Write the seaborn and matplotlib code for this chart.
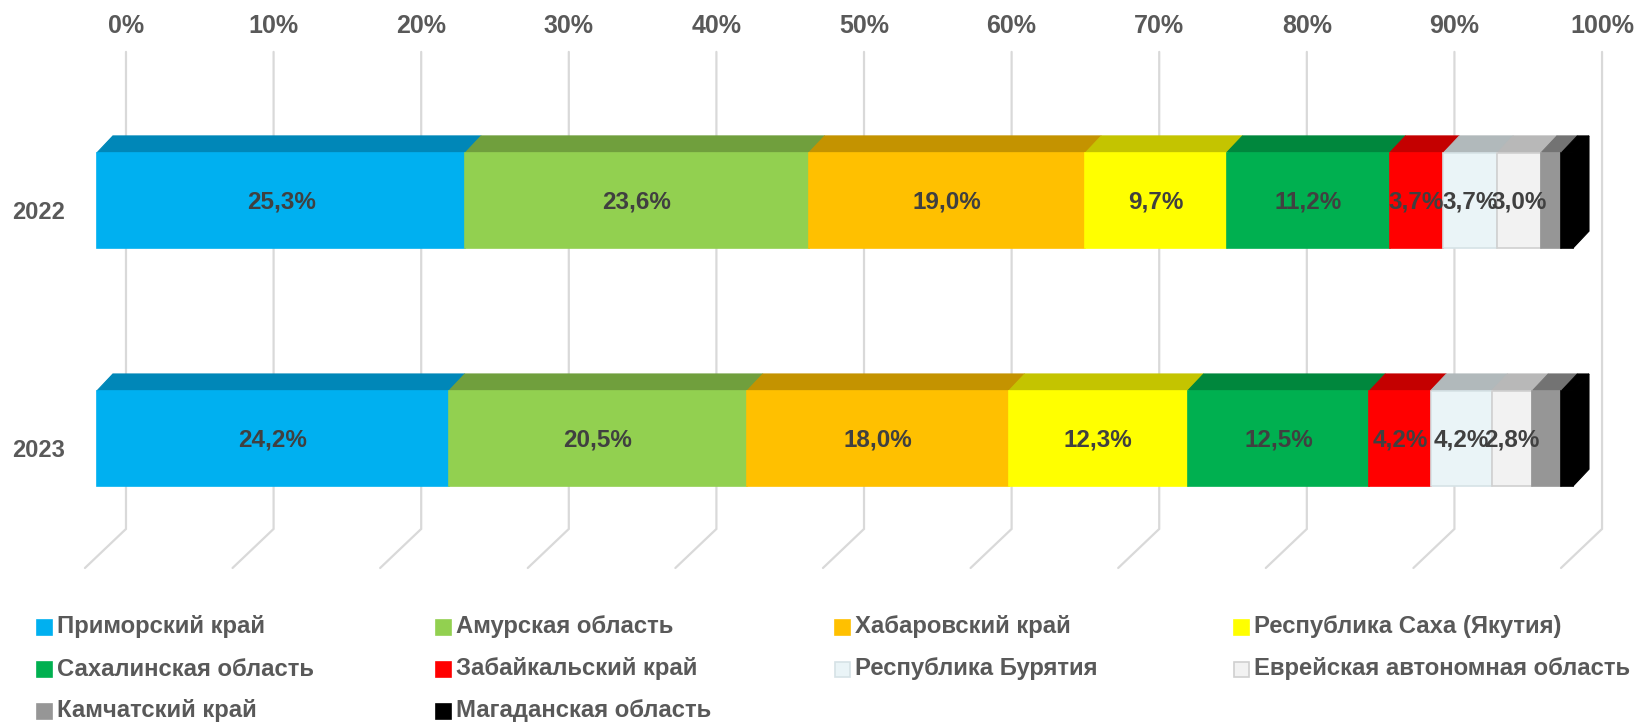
"""
Структура по регионам ДФО, 2022-2023 (100% накопительная, псевдо-3D).
"""

import matplotlib
matplotlib.use("Agg")

import matplotlib.pyplot as plt
from matplotlib.patches import Polygon, Rectangle
import numpy as np
import pandas as pd
import seaborn as sns


YEARS = ["2022", "2023"]

REGIONS = [
    "Приморский край",
    "Амурская область",
    "Хабаровский край",
    "Республика Саха (Якутия)",
    "Сахалинская область",
    "Забайкальский край",
    "Республика Бурятия",
    "Еврейская автономная область",
    "Камчатский край",
    "Магаданская область",
]

SHARE_2022 = [25.3, 23.6, 19.0, 9.7, 11.2, 3.7, 3.7, 3.0, 1.4, 0.8]
SHARE_2023 = [24.2, 20.5, 18.0, 12.3, 12.5, 4.2, 4.2, 2.8, 2.0, 0.8]

# подписи есть только у первых восьми регионов
N_LABELED = 8

TICKS = [0, 10, 20, 30, 40, 50, 60, 70, 80, 90, 100]

COLORS = [
    "#00B0F0", "#92D050", "#FFC000", "#FFFF00", "#00B050",
    "#FF0000", "#EAF4F7", "#F2F2F2", "#969696", "#000000",
]
TOP_COLORS = [
    "#0087B8", "#709F3D", "#C49300", "#C4C400", "#00873D",
    "#C40000", "#B1B9BB", "#B8B8B8", "#737373", "#000000",
]
EDGE_COLORS = [
    "#00B0F0", "#92D050", "#FFC000", "#FFFF00", "#00B050",
    "#FF0000", "#D6E2E6", "#D0D0D0", "#969696", "#000000",
]

# геометрия псевдо-3D (в единицах данных)
BAR_H = 0.40
DEPTH_DX, DEPTH_DY = 1.08, 0.071
WALL_DX = 1.965
GRID_TOP, FLOOR_Y = -0.624, 1.380
FLOOR_DX, FLOOR_DY = -2.78, 0.164

TEXT_GREY = "#595959"
LABEL_GREY = "#404040"


def build_frame() -> pd.DataFrame:
    rows = []
    for year, shares in zip(YEARS, [SHARE_2022, SHARE_2023]):
        total = sum(shares)
        start = 0.0
        for region, value in zip(REGIONS, shares):
            width = value / total * 100
            rows.append(
                dict(year=year, region=region, share=value,
                     width=width, start=start)
            )
            start += width
    return pd.DataFrame(rows)


df = build_frame()

sns.set_theme(style="white")
plt.rcParams["font.family"] = ["Liberation Sans", "DejaVu Sans"]

fig = plt.figure(figsize=(16.34, 7.22), dpi=100)
ax = fig.add_axes([0, 0, 1, 1])

# задняя стенка и пол: сетка
for t in TICKS:
    xb = t + WALL_DX
    ax.plot([xb, xb, xb + FLOOR_DX], [GRID_TOP, FLOOR_Y, FLOOR_Y + FLOOR_DY],
            color="#D9D9D9", lw=1.6, zorder=0, solid_joinstyle="miter")
    ax.text(xb, -0.733, f"{t}%", ha="center", va="center",
            fontsize=18, fontweight="bold", color=TEXT_GREY,
            family=["Liberation Sans Narrow", "Liberation Sans", "DejaVu Sans"])

# передние грани
for i, region in enumerate(REGIONS):
    part = df[df["region"] == region]
    sns.barplot(
        data=part, x="width", y="year", order=YEARS, orient="h",
        left=part["start"].to_numpy(), width=BAR_H, errorbar=None,
        color=COLORS[i], edgecolor=EDGE_COLORS[i], linewidth=1.2,
        saturation=1, ax=ax, zorder=3,
    )

# верхние грани, торец и подписи
for pos, year in enumerate(YEARS):
    part = df[df["year"] == year].reset_index(drop=True)
    y_top = pos - BAR_H / 2
    y_bot = pos + BAR_H / 2
    for i, row in part.iterrows():
        x0, x1 = row["start"], row["start"] + row["width"]
        top = Polygon(
            [(x0, y_top), (x1, y_top),
             (x1 + DEPTH_DX, y_top - DEPTH_DY), (x0 + DEPTH_DX, y_top - DEPTH_DY)],
            closed=True, facecolor=TOP_COLORS[i], edgecolor=TOP_COLORS[i],
            lw=0.8, zorder=2,
        )
        ax.add_patch(top)
        if i < N_LABELED:
            label = f"{row['share']:.1f}%".replace(".", ",")
            ax.text((x0 + x1) / 2, pos + 0.005, label, ha="center",
                    va="center", fontsize=17.5, fontweight="bold",
                    color=LABEL_GREY, zorder=6)
    x_end = part["start"].iloc[-1] + part["width"].iloc[-1]
    side = Polygon(
        [(x_end, y_top), (x_end + DEPTH_DX, y_top - DEPTH_DY),
         (x_end + DEPTH_DX, y_bot - DEPTH_DY), (x_end, y_bot)],
        closed=True, facecolor=COLORS[-1], edgecolor=COLORS[-1],
        lw=0.8, zorder=2,
    )
    ax.add_patch(side)
    ax.text(-3.93, pos + 0.05, year, ha="center", va="center",
            fontsize=17, fontweight="bold", color=TEXT_GREY)

ax.set_xlim(-6.57, 104.13)
ax.set_ylim(2.191, -0.842)
ax.axis("off")

# легенда: 4 колонки, построчно
W, H = 1634, 722
for i, region in enumerate(REGIONS):
    col, row = i % 4, i // 4
    xs = 37 + 399 * col
    yc = 627 + 42 * row
    fig.add_artist(Rectangle(
        ((xs) / W, 1 - (yc + 7.5) / H), 15 / W, 15 / H,
        transform=fig.transFigure, facecolor=COLORS[i],
        edgecolor=EDGE_COLORS[i] if i in (6, 7) else COLORS[i], lw=1.2,
    ))
    fig.text((xs + 20) / W, 1 - yc / H, region, ha="left", va="center",
             fontsize=17.2, fontweight="bold", color=TEXT_GREY)

fig.savefig("out.png", dpi=100)
